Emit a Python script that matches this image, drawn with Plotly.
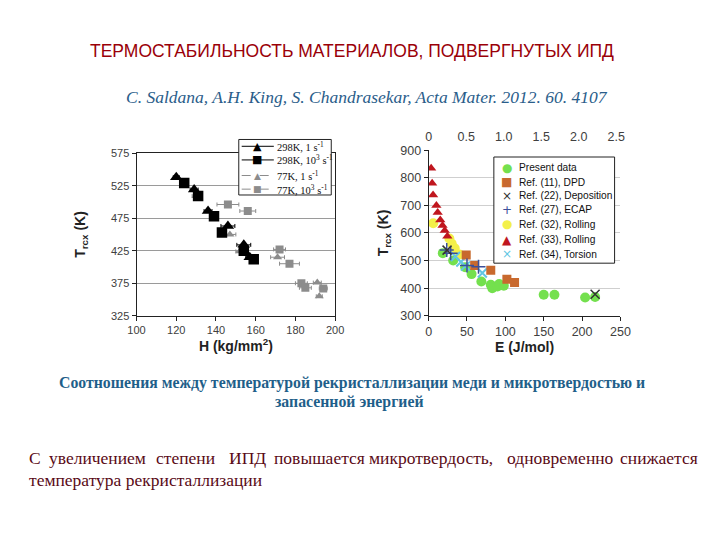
import plotly.graph_objects as go

W, H = 720, 540
def px(x): return x / W
def py(y): return 1 - y / H

# ---------------- Left chart data: T_rcx vs H ----------------
h_298_1 = [120, 129, 136, 146, 154, 157]
t_298_1 = [538, 519, 486, 463, 434, 415]
eh_298_1 = [1.5, 2, 2, 3.5, 3.5, 2]

h_298_1e3 = [124, 131, 139, 143, 154, 159]
t_298_1e3 = [529, 509, 478, 453, 425, 412]
eh_298_1e3 = [2, 2, 2, 2, 2, 2]

h_77_1 = [130, 147, 152, 171, 191, 192]
t_77_1 = [509, 450, 424, 415, 376, 355]
eh_77_1 = [2, 3, 2, 3.5, 2, 1.5]

h_77_1e3 = [146, 156, 172, 177, 183, 185, 194]
t_77_1e3 = [496, 486, 427, 405, 375, 368, 367]
eh_77_1e3 = [5.5, 4, 3, 5, 3, 3, 2]

left_labels = ["298K, 1 s<sup>-1</sup>", "298K, 10<sup>3</sup> s<sup>-1</sup>",
               "77K, 1 s<sup>-1</sup>", "77K, 10<sup>3</sup> s<sup>-1</sup>"]

# ---------------- Right chart data: T_rcx vs E ----------------
present_E = [18.5, 32, 47.6, 56, 68.7, 81, 83, 89.8, 92, 98, 150, 164, 204, 217]
present_T = [527, 500, 476, 451, 424, 412, 400, 406, 415, 409, 376, 376, 366, 368]
dpd_E = [49, 60, 81, 102, 112]
dpd_T = [520, 482, 465, 432, 421]
dep_E = [24, 217]
dep_T = [538, 378]
ecap_E = [23.6, 28.7, 50, 65]
ecap_T = [538, 527, 482, 478]
roll32_E = [6, 27, 30, 34, 40]
roll32_T = [635, 580, 562, 545, 522]
roll33_E = [3.3, 4.6, 5.8, 10.1, 11.8, 15.2, 18.1, 21, 24.4]
roll33_T = [835, 780, 738, 700, 674, 647, 627, 609, 588]
tors_E = [35, 42, 48, 70]
tors_T = [515, 495, 480, 455]

right_labels = ["Present data", "Ref. (11), DPD", "Ref. (22), Deposition", "Ref. (27), ECAP",
                "Ref. (32), Rolling", "Ref. (33), Rolling", "Ref. (34), Torsion"]
right_colors = ["#74e04e", "#c8692e", "#333333", "#3a4f9a", "#f3f04a", "#c0161e", "#62c6e3"]
right_symbols = ["●", "■", "×", "+", "●", "▲", "×"]

top_ticks = [0, 0.5, 1.0, 1.5, 2.0, 2.5]
top_text = ["0", "0.5", "1.0", "1.5", "2.0", "2.5"]

fig = go.Figure()

def left_trace(x, y, e, sym, color, size, ecol):
    fig.add_trace(go.Scatter(
        x=x, y=y, mode="markers", xaxis="x", yaxis="y", showlegend=False,
        marker=dict(symbol=sym, size=size, color=color),
        error_x=dict(type="data", array=e, color=ecol, thickness=1, width=2)))

left_trace(h_77_1e3, t_77_1e3, eh_77_1e3, "square", "#8c8c8c", 8, "#8c8c8c")
left_trace(h_77_1, t_77_1, eh_77_1, "triangle-up", "#8c8c8c", 8, "#8c8c8c")
left_trace(h_298_1e3, t_298_1e3, eh_298_1e3, "square", "#000000", 10.5, "#000000")
left_trace(h_298_1, t_298_1, eh_298_1, "triangle-up", "#000000", 11, "#000000")

def right_trace(x, y, sym, color, size, lw=0):
    m = dict(symbol=sym, size=size, color=color)
    if lw:
        m["line"] = dict(width=lw, color=color)
    fig.add_trace(go.Scatter(x=x, y=y, mode="markers", xaxis="x2", yaxis="y2",
                             showlegend=False, marker=m))

right_trace(roll32_E, roll32_T, "circle", right_colors[4], 10)
right_trace(present_E, present_T, "circle", right_colors[0], 10)
right_trace(tors_E, tors_T, "x-thin", right_colors[6], 9, 2)
right_trace(dpd_E, dpd_T, "square", right_colors[1], 9)
right_trace(roll33_E, roll33_T, "triangle-up", right_colors[5], 9)
right_trace(ecap_E, ecap_T, "cross-thin", right_colors[3], 10, 1.5)
right_trace(dep_E, dep_T, "x-thin", right_colors[2], 9, 1.5)

sans = "Liberation Sans, Arial, sans-serif"
serif = "Liberation Serif, Times New Roman, serif"
tickfont = dict(family=sans, size=11, color="#404040")
tickfont2 = dict(family=sans, size=12.5, color="#404040")
titlefont = dict(family=sans, size=14, color="#222222")

fig.update_layout(
    width=W, height=H, margin=dict(l=0, r=0, t=0, b=0),
    paper_bgcolor="white", plot_bgcolor="white", showlegend=False,
    xaxis=dict(domain=[px(131), px(335)], range=[100, 200], dtick=20, anchor="y",
               showline=True, linecolor="#222", linewidth=1, mirror=True,
               ticks="outside", ticklen=4, tickcolor="#222", showgrid=False, zeroline=False,
               tickfont=tickfont, title=dict(text="<b>H (kg/mm<sup>2</sup>)</b>", font=titlefont, standoff=2)),
    yaxis=dict(domain=[py(317), py(150)], range=[325, 575], tick0=325, dtick=50, anchor="x",
               showline=True, linecolor="#222", linewidth=1, mirror=True,
               ticks="outside", ticklen=4, tickcolor="#222", showgrid=True, gridcolor="#9a9a9a",
               zeroline=False, tickfont=tickfont,
               title=dict(text="<b>T<sub>rcx</sub> (K)</b>", font=titlefont, standoff=22)),
    xaxis2=dict(domain=[px(431), px(628)], range=[0, 250], dtick=50, anchor="y2",
                showline=True, linecolor="#222", linewidth=1, ticks="outside", ticklen=4,
                tickcolor="#222", showgrid=False, zeroline=False, tickfont=tickfont2,
                title=dict(text="<b>E (J/mol)</b>", font=titlefont, standoff=2)),
    xaxis3=dict(overlaying="x2", side="top", anchor="y2", range=[0, 2.556],
                tickvals=top_ticks, ticktext=top_text, showline=False, showgrid=False,
                zeroline=False, ticks="", ticklabelstandoff=6, tickfont=tickfont2),
    yaxis2=dict(domain=[py(317), py(147)], range=[300, 900], dtick=100, anchor="x2",
                showline=True, linecolor="#222", linewidth=1, ticks="outside", ticklen=4,
                tickcolor="#222", showgrid=True, gridcolor="#cfcfcf", zeroline=False,
                tickfont=tickfont2,
                title=dict(text="<b>T<sub>rcx</sub> (K)</b>", font=titlefont, standoff=8)),
)
# invisible helper so the top axis is drawn
fig.add_trace(go.Scatter(x=[None], y=[None], xaxis="x3", yaxis="y2", showlegend=False, hoverinfo="skip"))

shapes = []
ann = []

# ---- left legend (drawn manually) ----
shapes.append(dict(type="rect", xref="paper", yref="paper", x0=px(236), x1=px(331), y0=py(193), y1=py(136),
                   line=dict(color="#222", width=1), fillcolor="white", layer="above"))
left_leg_sym = ["▲", "■", "▲", "■"]
left_leg_col = ["#000000", "#000000", "#8c8c8c", "#8c8c8c"]
left_leg_dash = ["solid", "solid", "dash", "dash"]
left_leg_size = [11, 11, 9, 9]
rows_l = [143, 157, 173, 187]
for i, lab in enumerate(left_labels):
    yy = rows_l[i]
    shapes.append(dict(type="line", xref="paper", yref="paper", x0=px(239), x1=px(272), y0=py(yy), y1=py(yy),
                       line=dict(color=left_leg_col[i], width=1, dash=left_leg_dash[i]), layer="above"))
    ann.append(dict(x=px(255), y=py(yy), xref="paper", yref="paper", text=left_leg_sym[i], showarrow=False,
                    xanchor="center", yanchor="middle",
                    font=dict(family="DejaVu Sans", size=left_leg_size[i], color=left_leg_col[i])))
    ann.append(dict(x=px(273), y=py(yy), xref="paper", yref="paper", text=lab, showarrow=False,
                    xanchor="left", yanchor="middle",
                    font=dict(family=serif, size=10.5, color="#111")))

# ---- right legend ----
shapes.append(dict(type="rect", xref="paper", yref="paper", x0=px(498), x1=px(622), y0=py(263), y1=py(154),
                   line=dict(color="#222", width=1), fillcolor="white", layer="above"))
rows_r = [165, 180, 194, 208, 223, 239, 254]
for i, lab in enumerate(right_labels):
    yy = rows_r[i]
    ann.append(dict(x=px(511), y=py(yy), xref="paper", yref="paper", text=right_symbols[i], showarrow=False,
                    xanchor="center", yanchor="middle",
                    font=dict(family="DejaVu Sans", size=12, color=right_colors[i])))
    ann.append(dict(x=px(522), y=py(yy), xref="paper", yref="paper", text=lab, showarrow=False,
                    xanchor="left", yanchor="middle",
                    font=dict(family=sans, size=10.2, color="#111")))

# ---- slide texts ----
ann.append(dict(x=px(352), y=py(45), xref="paper", yref="paper",
                text="ТЕРМОСТАБИЛЬНОСТЬ МАТЕРИАЛОВ, ПОДВЕРГНУТЫХ ИПД", showarrow=False,
                xanchor="center", yanchor="middle",
                font=dict(family=sans, size=17.5, color="#9a0008")))
ann.append(dict(x=px(368), y=py(92), xref="paper", yref="paper",
                text="<i>C. Saldana, A.H. King, S. Chandrasekar, Acta Mater. 2012. 60. 4107</i>", showarrow=False,
                xanchor="center", yanchor="middle",
                font=dict(family=serif, size=17.5, color="#2a5d8a")))
ann.append(dict(x=px(352), y=py(386), xref="paper", yref="paper",
                text="<b>Соотношения между температурой рекристаллизации меди и микротвердостью и</b>",
                showarrow=False, xanchor="center", yanchor="middle",
                font=dict(family=serif, size=15.8, color="#1f5f8a")))
ann.append(dict(x=px(350), y=py(406), xref="paper", yref="paper",
                text="<b>запасенной энергией</b>", showarrow=False, xanchor="center", yanchor="middle",
                font=dict(family=serif, size=15.8, color="#1f5f8a")))

para_words = ["С", "увеличением", "степени", "ИПД", "повышается", "микротвердость,", "одновременно", "снижается"]
para_x = [18, 39, 149, 224, 270, 368, 509, 625]
pfont = dict(family=serif, size=17.5, color="#5a0a16")
for wd, xx in zip(para_words, para_x):
    ann.append(dict(x=px(xx), y=py(463), xref="paper", yref="paper", text=wd, showarrow=False,
                    xanchor="left", yanchor="middle", font=pfont))
ann.append(dict(x=px(18), y=py(486), xref="paper", yref="paper", text="температура рекристаллизации",
                showarrow=False, xanchor="left", yanchor="middle", font=pfont))

fig.update_layout(shapes=shapes, annotations=ann)
fig.write_html("out.html", config={"displayModeBar": False},
               post_script="document.body.style.margin='0';")
